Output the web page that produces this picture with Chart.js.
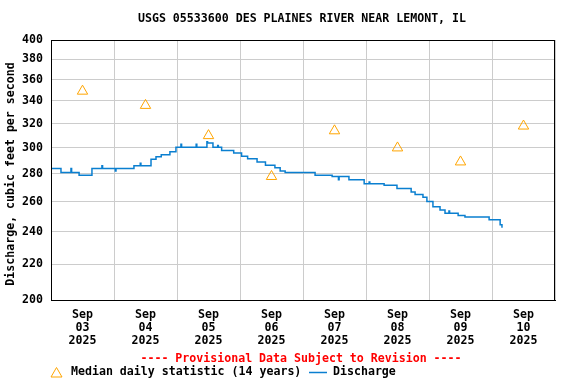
<!DOCTYPE html>
<html>
<head>
<meta charset="utf-8">
<script src="https://cdn.jsdelivr.net/npm/chart.js@4"></script>
<style>
  body { margin: 0; background: #fff; }
  canvas { display: block; }
</style>
</head>
<body>
<canvas id="chart" width="576" height="384"></canvas>
<script>
// hours since Sep 03 2025 00:00 and discharge in cfs (15-min steps)
const dischargeHours = [
    0, 3.8, 7.6, 7.85, 10.7, 15.6, 19.4, 19.65, 24.5, 24.75,
    31.6, 34.0, 34.25, 38.1, 40.0, 42.0, 45.3, 47.6, 49.5, 49.75,
    55.3, 55.55, 59.4, 59.65, 61.7, 63.5, 63.75, 65.0, 69.6, 72.6,
    74.9, 78.5, 81.7, 85.3, 87.3, 89.2, 100.6, 107.1, 109.5, 109.75,
    113.5, 119.3, 121.2, 121.45, 126.9, 131.8, 137.2, 138.7, 141.7, 143.2,
    145.5, 148.2, 150.1, 151.6, 151.85, 155.1, 157.7, 166.9, 171.1, 171.8
];
const dischargeCfs = [
    284, 281, 284, 281, 279, 284, 286, 284, 282, 284,
    286, 288, 286, 291, 293, 294.5, 297, 300.5, 303, 300.5,
    303, 300.5, 305, 304, 300.5, 302, 300.5, 298, 296, 293.5,
    291.5, 289, 286.5, 284.5, 282, 281, 279, 278, 275.5, 278,
    275.5, 272.7, 274, 272.7, 271.5, 269.3, 266.7, 265, 263, 260,
    256.5, 254.3, 252, 253.5, 252, 250.5, 249.5, 247.7, 244.4, 242.5
];

// median daily statistic, plotted at noon of each day
const medianHours = [12, 36, 60, 84, 108, 132, 156, 180];
const medianCfs = [349, 336, 310, 278, 314, 300, 289, 318];

const dayMonth = 'Sep';
const dayNumbers = ['03', '04', '05', '06', '07', '08', '09', '10'];
const dayYear = '2025';
const yTicks = [200, 220, 240, 260, 280, 300, 320, 340, 360, 380, 400];

const titleText = 'USGS 05533600 DES PLAINES RIVER NEAR LEMONT, IL';
const yTitleText = 'Discharge, cubic feet per second';
const provisionalText = '---- Provisional Data Subject to Revision ----';
const medianLabel = 'Median daily statistic (14 years)';
const dischargeLabel = 'Discharge';

const FONT = 'bold 11.6px "DejaVu Sans Mono", monospace';
const LINE_BLUE = '#0a7fd0';
const MEDIAN_ORANGE = '#ffa500';
const GRID = '#cccccc';

Chart.defaults.font.family = '"DejaVu Sans Mono", monospace';
Chart.defaults.font.size = 11.6;
Chart.defaults.font.weight = 'bold';
Chart.defaults.color = '#000';

// title, box, rotated y title and the hand-made legend
const decor = {
    id: 'decor',
    afterDraw(chart) {
        const { ctx, chartArea: ca } = chart;
        ctx.save();
        ctx.strokeStyle = '#000';
        ctx.lineWidth = 1;
        ctx.strokeRect(ca.left + 0.5, ca.top + 0.5, ca.right - ca.left - 1, ca.bottom - ca.top);

        ctx.font = FONT;
        ctx.fillStyle = '#000';
        ctx.textAlign = 'center';
        ctx.textBaseline = 'middle';
        ctx.fillText(titleText, 302, 19);

        ctx.save();
        ctx.translate(11, 174);
        ctx.rotate(-Math.PI / 2);
        ctx.fillText(yTitleText, 0, 0);
        ctx.restore();

        ctx.fillStyle = '#ff0000';
        ctx.fillText(provisionalText, 301, 359);

        // legend
        ctx.strokeStyle = MEDIAN_ORANGE;
        ctx.beginPath();
        ctx.moveTo(56.5, 367.5);
        ctx.lineTo(62, 377);
        ctx.lineTo(51, 377);
        ctx.closePath();
        ctx.stroke();

        ctx.fillStyle = '#000';
        ctx.textAlign = 'left';
        ctx.fillText(medianLabel, 71, 372);

        ctx.strokeStyle = LINE_BLUE;
        ctx.lineWidth = 1.5;
        ctx.beginPath();
        ctx.moveTo(309, 372.5);
        ctx.lineTo(327, 372.5);
        ctx.stroke();

        ctx.fillText(dischargeLabel, 333, 372);
        ctx.restore();
    }
};

new Chart(document.getElementById('chart'), {
    type: 'line',
    data: {
        datasets: [
            {
                label: dischargeLabel,
                data: dischargeHours.map((h, i) => ({ x: h, y: dischargeCfs[i] })),
                borderColor: LINE_BLUE,
                borderWidth: 1.5,
                stepped: true,
                pointRadius: 0,
                fill: false
            },
            {
                label: medianLabel,
                data: medianHours.map((h, i) => ({ x: h, y: medianCfs[i] })),
                showLine: false,
                pointStyle: 'triangle',
                pointRadius: 6,
                borderColor: MEDIAN_ORANGE,
                backgroundColor: 'rgba(0,0,0,0)',
                borderWidth: 1
            }
        ]
    },
    options: {
        responsive: false,
        animation: false,
        layout: { padding: { top: 40, right: 21, bottom: 0, left: 0 } },
        plugins: {
            legend: { display: false },
            tooltip: { enabled: false },
            title: { display: false }
        },
        scales: {
            x: {
                type: 'linear',
                min: 0,
                max: 192,
                afterFit: (scale) => { scale.height = 84; },
                afterBuildTicks: (scale) => {
                    const ticks = [];
                    for (let h = 0; h <= 192; h += 12) ticks.push({ value: h });
                    scale.ticks = ticks;
                },
                ticks: {
                    autoSkip: false,
                    maxRotation: 0,
                    padding: 8,
                    font: { lineHeight: 13 / 11.6 },
                    callback: (value) => {
                        if (value % 24 !== 12) return '';
                        return [dayMonth, dayNumbers[Math.floor(value / 24)], dayYear];
                    }
                },
                grid: {
                    drawTicks: false,
                    color: (ctx) => (ctx.tick && ctx.tick.value % 24 === 0) ? GRID : 'rgba(0,0,0,0)'
                },
                border: { color: '#000' }
            },
            y: {
                type: 'logarithmic',
                min: 200,
                max: 400,
                afterFit: (scale) => { scale.width = 51; },
                afterBuildTicks: (scale) => {
                    scale.ticks = yTicks.map(v => ({ value: v }));
                },
                ticks: {
                    padding: 8,
                    callback: (value) => String(value)
                },
                grid: {
                    drawTicks: false,
                    color: GRID
                },
                border: { color: '#000' }
            }
        }
    },
    plugins: [decor]
});
</script>
</body>
</html>
